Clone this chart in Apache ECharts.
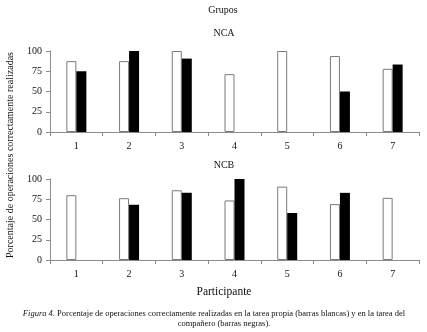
<!DOCTYPE html>
<html>
<head>
<meta charset="utf-8">
<script src="https://cdn.jsdelivr.net/npm/echarts@6/dist/echarts.min.js"></script>
<style>
html,body{margin:0;padding:0;background:#fff;}
#chart{width:427px;height:332px;}
</style>
</head>
<body>
<div id="chart"></div>
<script>
// Participants on the x axis
const participantes = ['1', '2', '3', '4', '5', '6', '7'];
// Y axis ticks
const yTicks = [0, 25, 50, 75, 100];

// NCA group: own task (white) and partner task (black)
const ncaPropia = [87.5, 87.5, 100, 71.4, 100, 93.8, 78];
const ncaCompanero = [75, 100, 90.6, null, null, 50, 83.3];

// NCB group
const ncbPropia = [80, 76.3, 86.1, 73.5, 90.6, 69, 76.7];
const ncbCompanero = [null, 68.2, 83, 100, 58, 82.9, null];

const FONT = '"Liberation Serif", "Times New Roman", serif';
const AXIS_GRAY = '#8c8c8c';

const chart = echarts.init(document.getElementById('chart'), null, { renderer: 'canvas' });

function xAxis(gridIndex) {
  return {
    type: 'category',
    gridIndex,
    data: participantes,
    axisLine: { lineStyle: { color: AXIS_GRAY, width: 1 } },
    axisTick: { show: true, length: 4, lineStyle: { color: AXIS_GRAY } },
    axisLabel: { fontFamily: FONT, fontSize: 10, color: '#111', margin: 9 }
  };
}
function yAxis(gridIndex) {
  return {
    type: 'value',
    gridIndex,
    min: yTicks[0],
    max: yTicks[yTicks.length - 1],
    interval: 25,
    splitLine: { show: false },
    axisLine: { show: true, lineStyle: { color: AXIS_GRAY, width: 1 } },
    axisTick: { show: true, length: 4, lineStyle: { color: AXIS_GRAY } },
    axisLabel: { fontFamily: FONT, fontSize: 10, color: '#111', margin: 8 }
  };
}
function whiteBars(xi, data) {
  return {
    type: 'bar', xAxisIndex: xi, yAxisIndex: xi, data,
    barWidth: 10, barGap: '0%',
    itemStyle: { color: '#fff', borderColor: '#7a7a7a', borderWidth: 1 },
    silent: true, animation: false
  };
}
function blackBars(xi, data) {
  return {
    type: 'bar', xAxisIndex: xi, yAxisIndex: xi, data,
    barWidth: 10, barGap: '0%',
    itemStyle: { color: '#000' },
    silent: true, animation: false
  };
}

function centeredText(x, y, text, size) {
  return {
    type: 'text', x, y,
    style: { text, font: size + 'px ' + FONT, fill: '#111', align: 'center', verticalAlign: 'middle' }
  };
}

chart.setOption({
  backgroundColor: '#fff',
  animation: false,
  grid: [
    { left: 50, right: 8, top: 51, height: 81 },
    { left: 50, right: 8, top: 179, height: 81 }
  ],
  xAxis: [xAxis(0), xAxis(1)],
  yAxis: [yAxis(0), yAxis(1)],
  series: [
    whiteBars(0, ncaPropia), blackBars(0, ncaCompanero),
    whiteBars(1, ncbPropia), blackBars(1, ncbCompanero)
  ],
  graphic: [
    centeredText(223, 10, 'Grupos', 10),
    centeredText(224, 33, 'NCA', 10),
    centeredText(224, 165, 'NCB', 10),
    centeredText(224, 292, 'Participante', 11.5),
    {
      type: 'text', x: 10, y: 155, rotation: Math.PI / 2,
      style: { text: 'Porcentaje de operaciones correctamente realizadas', font: '10px ' + FONT, fill: '#111', align: 'center', verticalAlign: 'middle' }
    },
    {
      type: 'text', x: 214, y: 314,
      style: {
        text: '{i|Figura 4}. Porcentaje de operaciones correctamente realizadas en la tarea propia (barras blancas) y en la tarea del',
        font: '8.5px ' + FONT, fill: '#111', align: 'center', verticalAlign: 'middle',
        rich: { i: { fontStyle: 'italic', fontFamily: FONT, fontSize: 8.5, fill: '#111' } }
      }
    },
    centeredText(224, 324, 'compañero (barras negras).', 8.5)
  ]
});
</script>
</body>
</html>
